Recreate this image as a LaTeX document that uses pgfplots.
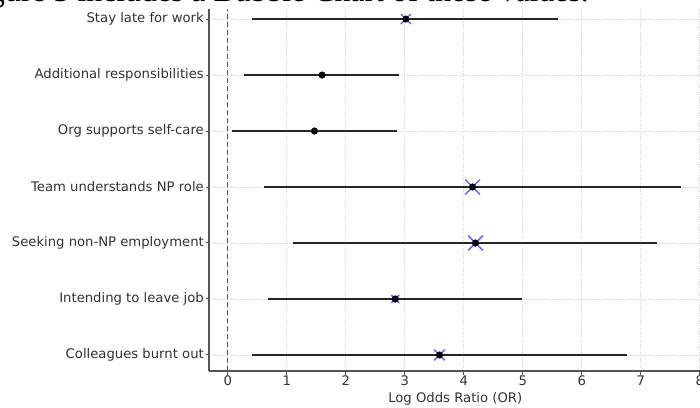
\documentclass[border=0pt]{standalone}
\usepackage{pgfplots}
\pgfplotsset{compat=1.18}
\usepackage{pgfplotstable}
\usepackage{fontspec}
\setmainfont{DejaVu Sans}
\newfontfamily\docserif{Liberation Serif}
\definecolor{xblue}{RGB}{105,105,250}
\definecolor{spine}{RGB}{85,85,85}
\definecolor{txt}{RGB}{50,50,50}
\pgfplotstableread{
y or lo hi ms
6 3.02 0.42 5.59 7
5 1.60 0.28 2.91 0
4 1.47 0.07 2.87 0
3 4.15 0.61 7.68 10.5
2 4.20 1.11 7.28 10.5
1 2.84 0.68 4.99 5.5
0 3.59 0.41 6.76 7.5
}\data
\begin{document}
\begin{tikzpicture}
\useasboundingbox (0,0) rectangle (700pt,407pt);
\fill[white] (0,0) rectangle (700pt,407pt);
\begin{axis}[
  at={(209pt,36pt)}, anchor=south west,
  scale only axis, width=492.5pt, height=362pt,
  xmin=-0.317, xmax=8.03, ymin=-0.286, ymax=6.179,
  axis x line*=bottom, axis y line*=left,
  axis line style={spine, line width=1.3pt},
  xtick={0,1,...,8}, ytick={0,...,6},
  yticklabels={Colleagues burnt out, Intending to leave job, Seeking non-NP employment, Team understands NP role, Org supports self-care, Additional responsibilities, Stay late for work},
  tick align=outside, major tick length=3.5pt,
  tick style={spine, line width=1pt},
  /pgf/number format/assume math mode=true,
  ticklabel style={font=\fontsize{13.2}{15}\selectfont, text=txt},
  xticklabel style={anchor=north, inner sep=0pt, yshift=-1pt},
  yticklabel style={anchor=east, inner sep=0pt, xshift=-1.5pt},
  xlabel={Log Odds Ratio (OR)},
  every axis x label/.style={at={(axis description cs:0.5,0)}, anchor=base, yshift=-31.5pt, font=\fontsize{13.2}{15}\selectfont, text=txt},
  grid=major,
  major grid style={black!16, line width=0.8pt, dash pattern=on 1.3pt off 1.3pt},
  clip=false,
]
\addplot[spine, line width=1.1pt, dash pattern=on 5pt off 3pt] coordinates {(0,-0.286) (0,6.179)};
\addplot[only marks, mark=none, black!85,
  error bars/.cd, x dir=both, x explicit, error mark=none,
  error bar style={line width=2pt, black!85}]
  table[x=or, y=y, x error plus expr=\thisrow{hi}-\thisrow{or}, x error minus expr=\thisrow{or}-\thisrow{lo}]{\data};
\addplot[only marks, mark=x, scatter,
  scatter/use mapped color={draw=xblue, fill=xblue},
  mark options={line width=1.5pt},
  visualization depends on={\thisrow{ms}\as\ms},
  scatter/@pre marker code/.append style={/tikz/mark size=\ms pt}]
  table[x=or, y=y]{\data};
\addplot[only marks, mark=*, mark size=3.3pt, black] table[x=or, y=y]{\data};
\end{axis}
\node[anchor=base west, inner sep=0pt, font=\docserif\fontsize{31.8}{36}\selectfont] at (-37.5pt,405pt) {Figure 3 includes a Bubble Chart of these values.};
\end{tikzpicture}
\end{document}
